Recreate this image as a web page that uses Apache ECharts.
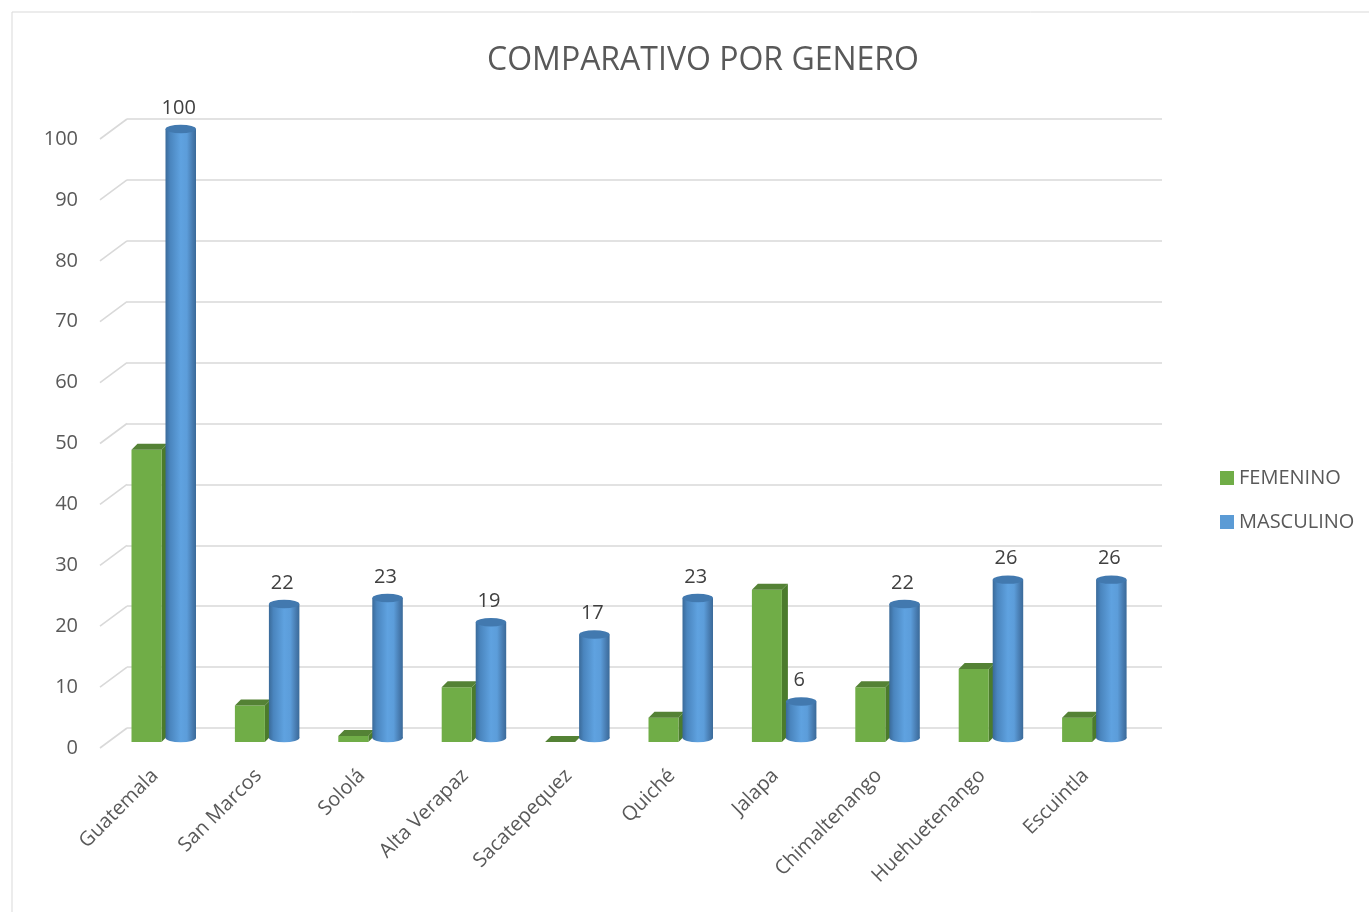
<!DOCTYPE html>
<html>
<head>
<meta charset="utf-8">
<script src="https://cdn.jsdelivr.net/npm/echarts@6/dist/echarts.min.js"></script>
<style>
html,body{margin:0;padding:0;background:#fff;}
#chart{width:1369px;height:912px;}
</style>
</head>
<body>
<div id="chart"></div>
<script>
const categories = ['Guatemala','San Marcos','Sololá','Alta Verapaz','Sacatepequez','Quiché','Jalapa','Chimaltenango','Huehuetenango','Escuintla'];
const femenino = [48, 6, 1, 9, 0, 4, 25, 9, 12, 4];
const masculino = [100, 22, 23, 19, 17, 23, 6, 22, 26, 26];
const yTicks = [0,10,20,30,40,50,60,70,80,90,100];
const titleText = 'COMPARATIVO POR GENERO';

const FONT = '"Open Sans", "Noto Sans", sans-serif';
const chart = echarts.init(document.getElementById('chart'));

const DEPTH_Y = 20;
const REF_BAND = 103.4;

function renderStub(params, api) {
  const v = api.value(0);
  const p0 = api.coord([0, v]);
  const p1 = api.coord([1, v]);
  return {
    type: 'line',
    shape: { x1: p0[0], y1: p0[1], x2: p1[0], y2: p1[1] - DEPTH_Y },
    style: { stroke: '#d9d9d9', lineWidth: 1.6 }
  };
}

function renderGreen(params, api) {
  const cat = api.value(0), v = api.value(1);
  const top = api.coord([cat, v]);
  const base = api.coord([cat, 0]);
  const band = api.size([1, 0])[0];
  const s = band / REF_BAND;
  const x0 = top[0] - 32 * s, x1 = top[0] - 2 * s;
  const d = 6 * s;
  const yt = top[1], yb = base[1];
  return {
    type: 'group',
    children: [
      { type: 'polygon', shape: { points: [[x1, yt], [x1 + d, yt - d], [x1 + d, yb - d], [x1, yb]] },
        style: { fill: '#4B7B2C' } },
      { type: 'rect', shape: { x: x0, y: yt, width: x1 - x0, height: yb - yt },
        style: { fill: '#70AD47' } },
      { type: 'polygon', shape: { points: [[x0, yt], [x0 + d, yt - d], [x1 + d, yt - d], [x1, yt]] },
        style: { fill: '#548235' } }
    ]
  };
}

function renderBlue(params, api) {
  const cat = api.value(0), v = api.value(1);
  const top = api.coord([cat, v]);
  const base = api.coord([cat, 0]);
  const band = api.size([1, 0])[0];
  const s = band / REF_BAND;
  const x0 = top[0] + 2 * s, x1 = top[0] + 32.5 * s;
  const cx = (x0 + x1) / 2, rx = (x1 - x0) / 2, ry = 4.2;
  const yt = top[1] - 4, yb = base[1] - 4;
  const grad = new echarts.graphic.LinearGradient(0, 0, 1, 0, [
    { offset: 0, color: '#3A6A99' },
    { offset: 0.15, color: '#4A85BE' },
    { offset: 0.5, color: '#5FA2E0' },
    { offset: 0.7, color: '#5C9DDA' },
    { offset: 0.9, color: '#4679AD' },
    { offset: 1, color: '#3A6A99' }
  ]);
  return {
    type: 'group',
    children: [
      { type: 'circle', shape: { cx: 0, cy: 0, r: rx }, x: cx, y: yb, scaleY: ry / rx,
        style: { fill: grad } },
      { type: 'rect', shape: { x: x0, y: yt, width: x1 - x0, height: Math.max(0, yb - yt) },
        style: { fill: grad } },
      { type: 'circle', shape: { cx: 0, cy: 0, r: rx }, x: cx, y: yt, scaleY: ry / rx,
        style: { fill: '#4279AF' } },
      { type: 'text', style: { text: String(v), x: cx - 2 * s, y: top[1] - 25,
        align: 'center', verticalAlign: 'middle', fontSize: 20, fontFamily: FONT, fill: '#404040' } }
    ]
  };
}

const option = {
  animation: false,
  backgroundColor: '#ffffff',
  title: {
    text: titleText, left: 698, top: 40, textAlign: 'center',
    textStyle: { fontFamily: FONT, fontSize: 32, fontWeight: 'normal', color: '#595959' }
  },
  legend: {
    orient: 'vertical', left: 1215, top: 463,
    itemWidth: 14, itemHeight: 14, itemGap: 24, icon: 'rect',
    data: ['FEMENINO', 'MASCULINO'],
    textStyle: { fontFamily: FONT, fontSize: 20, color: '#595959', lineHeight: 20 }
  },
  graphic: [
    { type: 'rect', shape: { x: 12, y: 12, width: 1400, height: 1000 },
      style: { fill: 'none', stroke: '#d9d9d9', lineWidth: 1 }, silent: true, z: -10 }
  ],
  grid: [
    { left: 100, top: 139, width: 27, height: 609 },
    { left: 127, top: 119, width: 1035, height: 609 },
    { left: 111.8, top: 133, width: 1034, height: 609 }
  ],
  xAxis: [
    { gridIndex: 0, type: 'value', min: 0, max: 1, show: false },
    { gridIndex: 1, type: 'category', data: categories, show: false },
    { gridIndex: 2, type: 'category', data: categories,
      axisLine: { show: false }, axisTick: { show: false },
      axisLabel: { interval: 0, rotate: 45, margin: 22, padding: [0, 12, 0, 0],
        fontSize: 20, fontFamily: FONT, color: '#595959' } }
  ],
  yAxis: [
    { gridIndex: 0, type: 'value', min: 0, max: 100, interval: 10,
      axisLine: { show: false }, axisTick: { show: false }, splitLine: { show: false },
      axisLabel: { margin: 22, fontSize: 20, fontFamily: FONT, color: '#595959' } },
    { gridIndex: 1, type: 'value', min: 0, max: 100, interval: 10,
      axisLine: { show: false }, axisTick: { show: false }, axisLabel: { show: false },
      splitLine: { show: true, lineStyle: { color: '#d9d9d9', width: 1.6 } } },
    { gridIndex: 2, type: 'value', min: 0, max: 100, interval: 10, show: false,
      splitLine: { show: false } }
  ],
  series: [
    { type: 'custom', name: 'stubs', xAxisIndex: 0, yAxisIndex: 0, silent: true,
      renderItem: renderStub, data: yTicks.map(v => [v]), encode: { y: 0 }, clip: false },
    { type: 'custom', name: 'FEMENINO', xAxisIndex: 2, yAxisIndex: 2, clip: false,
      itemStyle: { color: '#70AD47' },
      renderItem: renderGreen, data: femenino.map((v, i) => [i, v]), encode: { x: 0, y: 1 } },
    { type: 'custom', name: 'MASCULINO', xAxisIndex: 2, yAxisIndex: 2, clip: false,
      itemStyle: { color: '#5B9BD5' },
      renderItem: renderBlue, data: masculino.map((v, i) => [i, v]), encode: { x: 0, y: 1 } }
  ]
};
chart.setOption(option);
</script>
</body>
</html>
